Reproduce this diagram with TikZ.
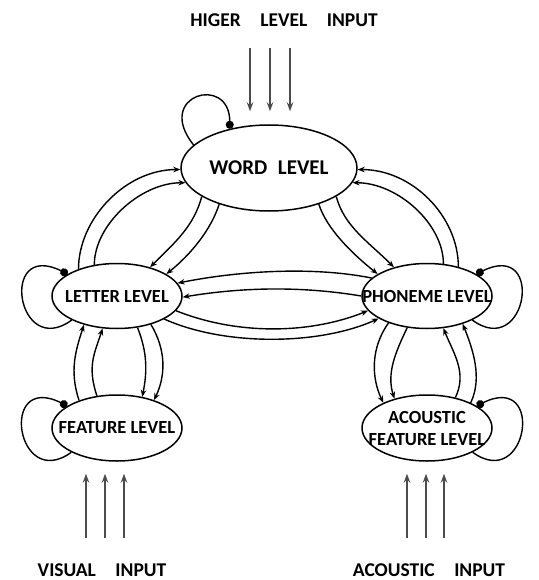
\documentclass[tikz,border=0pt]{standalone}
\usepackage{fontspec}
\setmainfont{Carlito}
\usetikzlibrary{arrows.meta,shapes.geometric}

% text that does not widen its ellipse
\newcommand{\nobox}[1]{\makebox[0pt]{#1}}

\begin{document}
\begin{tikzpicture}[x=1pt,y=-1pt,>={Stealth[length=7pt,width=5.5pt]},
  lvl/.style={draw,ellipse,line width=1.5pt,inner sep=0pt,minimum width=130pt,minimum height=65pt,align=center,font=\bfseries\fontsize{18.5}{22}\selectfont},
  link/.style={->,line width=1.4pt},
  selfloop/.style={-{Circle[length=8pt]},line width=1.4pt},
  inp/.style={-{Stealth[length=9pt,width=6.5pt]},line width=1.4pt,black!70},
  lbl/.style={font=\bfseries\fontsize{19.5}{22}\selectfont}]
\useasboundingbox (0,0) rectangle (538,580);
\node[lbl] (top) at (284,20) {HIGER\quad LEVEL\quad INPUT};
\node[lvl,minimum width=176pt,minimum height=86pt,font=\bfseries\fontsize{21}{24}\selectfont] (word) at (269,168) {\nobox{WORD\enspace LEVEL}};
\node[lvl] (letter) at (117,296) {\nobox{LETTER LEVEL}};
\node[lvl,minimum height=66pt] (feature) at (117,428) {\nobox{FEATURE LEVEL}};
\node[lvl] (phoneme) at (427,296) {\nobox{PHONEME LEVEL}};
\node[lvl,minimum height=66pt] (acoustic) at (427,428) {\nobox{ACOUSTIC}\\\nobox{FEATURE LEVEL}};
\node[lbl] (visual) at (102,570) {VISUAL\quad INPUT};
\node[lbl] (acin) at (429,570) {ACOUSTIC\quad INPUT};
% inputs
\foreach \x in {-19,1,21}
  \draw[inp,shorten <=18pt,shorten >=13pt] ([xshift=\x pt]word.north |- top.south) -- ([xshift=\x pt]word.north);
\foreach \x in {-16,3,22}
  \draw[inp,shorten <=22pt,shorten >=12pt] ([xshift=\x pt]visual.north) -- ([xshift=\x pt]visual.north |- feature.south);
\foreach \x in {-22,-3,15}
  \draw[inp,shorten <=22pt,shorten >=12pt] ([xshift=\x pt]acin.north) -- ([xshift=\x pt]acin.north |- acoustic.south);
% word <-> letter
\draw[link] (letter.145) .. controls +(0,-50) and +(-55,0) .. (word.181);
\draw[link] (letter.126) .. controls +(0,-40) and +(-45,0) .. (word.190);
\draw[link] (word.203) .. controls +(-8,30) and +(25,-25) .. (letter.41);
\draw[link] (word.216) .. controls +(-8,25) and +(25,-20) .. (letter.24);
% word <-> phoneme
\draw[link] (word.-23) .. controls +(8,30) and +(-25,-25) .. (phoneme.139);
\draw[link] (word.-36) .. controls +(8,25) and +(-25,-20) .. (phoneme.156);
\draw[link] (phoneme.43) .. controls +(0,-50) and +(55,0) .. (word.-1);
\draw[link] (phoneme.63) .. controls +(0,-40) and +(45,0) .. (word.-10);
% letter <-> phoneme
\draw[link] (phoneme.162) .. controls +(-60,-12) and +(60,-12) .. (letter.12);
\draw[link] (phoneme.180) .. controls +(-60,-10) and +(60,-10) .. (letter.-1);
\draw[link] (letter.-14) .. controls +(60,24) and +(-60,24) .. (phoneme.194);
\draw[link] (letter.-26) .. controls +(60,27) and +(-60,27) .. (phoneme.205);
% letter <-> feature
\draw[link] (feature.144) .. controls +(-10,-30) and +(-8,25) .. (letter.221);
\draw[link] (feature.122) .. controls +(-10,-30) and +(-8,25) .. (letter.246);
\draw[link] (letter.-57) .. controls +(10,25) and +(5,-25) .. (feature.51);
\draw[link] (letter.-40) .. controls +(15,25) and +(12,-25) .. (feature.37);
% phoneme <-> acoustic
\draw[link] (phoneme.215) .. controls +(-18,25) and +(-12,-25) .. (acoustic.150);
\draw[link] (phoneme.238) .. controls +(-12,25) and +(-8,-25) .. (acoustic.138);
\draw[link] (acoustic.47) .. controls +(12,-25) and +(10,25) .. (phoneme.-63);
\draw[link] (acoustic.30) .. controls +(12,-25) and +(10,25) .. (phoneme.-38);
% self loops
\draw[selfloop] (word.163) .. controls +(-40,-50) and +(0,-55) .. (word.135);
\draw[selfloop] (letter.208) .. controls +(-55,40) and +(-69,-34) .. (letter.156);
\draw[selfloop] (feature.208) .. controls +(-55,40) and +(-69,-34) .. (feature.156);
\draw[selfloop] (phoneme.-28) .. controls +(55,40) and +(69,-34) .. (phoneme.24);
\draw[selfloop] (acoustic.-28) .. controls +(55,40) and +(69,-34) .. (acoustic.24);
\end{tikzpicture}
\end{document}
